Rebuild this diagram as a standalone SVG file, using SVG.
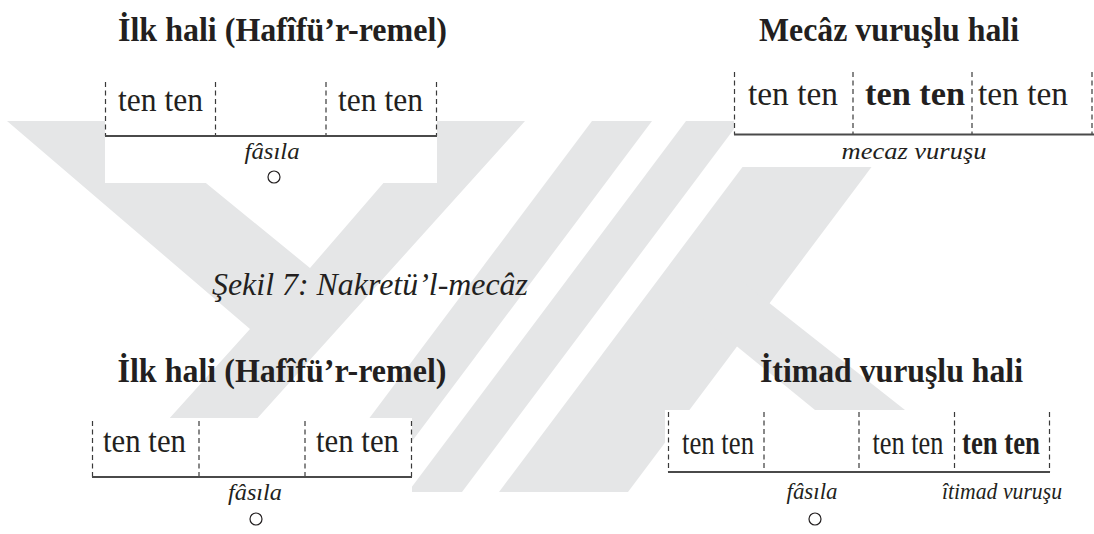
<svg xmlns="http://www.w3.org/2000/svg" width="1094" height="534" viewBox="0 0 1094 534">
<style>
.wm{fill:#e5e6e7}
.bg{fill:#ffffff}
.t{font-family:"Liberation Serif","Times New Roman",serif;fill:#231f20}
.title{font-size:34px;font-weight:bold;text-anchor:middle}
.cap{font-size:31px;font-style:italic;text-anchor:middle}
.cell{font-size:34px;text-anchor:middle}
.b{font-weight:bold}
.lab{font-size:24px;font-style:italic;text-anchor:middle}
.dash{stroke:#3a3a3a;stroke-width:1.2;stroke-dasharray:5 3.5;fill:none}
.base{stroke:#4a4a4a;stroke-width:2;fill:none}
.circ{fill:none;stroke:#231f20;stroke-width:1.2}
</style>
<rect x="0" y="0" width="1094" height="534" fill="#ffffff"/>
<g id="watermark">
<polygon class="wm" points="7,121 130,121 310,268 437,121 525,121 191,492 103,492 250,329"/>
<polygon class="wm" points="592,121 652,121 374,492 314,492"/>
<polygon class="wm" points="686,121 740,121 462,492 408,492"/>
<polygon class="wm" points="777,121 906,121 628,492 499,492"/>
<polygon class="wm" points="740,280 905,410 815,410 680,300"/>
</g>
<g id="backgrounds">
<rect class="bg" x="105" y="60" width="332" height="123"/>
<rect class="bg" x="734" y="60" width="360" height="107"/>
<rect class="bg" x="92" y="418" width="320" height="116"/>
<rect class="bg" x="665" y="410" width="429" height="124"/>
</g>
<g id="caption">
<text class="t cap" x="370" y="295" textLength="316" lengthAdjust="spacingAndGlyphs">Şekil 7: Nakretü’l-mecâz</text>
</g>
<g id="top-left">
<text class="t title" x="282.5" y="41" textLength="329" lengthAdjust="spacingAndGlyphs">İlk hali (Hafîfü’r-remel)</text>
<line class="dash" x1="105.5" y1="82" x2="105.5" y2="136"/>
<line class="dash" x1="215.5" y1="82" x2="215.5" y2="136"/>
<line class="dash" x1="326" y1="82" x2="326" y2="136"/>
<line class="dash" x1="436.5" y1="82" x2="436.5" y2="136"/>
<line class="base" x1="105" y1="136" x2="437" y2="136"/>
<text class="t cell" x="160.5" y="111" textLength="85" lengthAdjust="spacingAndGlyphs">ten ten</text>
<text class="t cell" x="380.5" y="111" textLength="85" lengthAdjust="spacingAndGlyphs">ten ten</text>
<text class="t lab" x="272" y="159" textLength="55" lengthAdjust="spacingAndGlyphs">fâsıla</text>
<circle class="circ" cx="274" cy="177" r="6"/>
</g>
<g id="top-right">
<text class="t title" x="889" y="41" textLength="260" lengthAdjust="spacingAndGlyphs">Mecâz vuruşlu hali</text>
<line class="dash" x1="734.5" y1="72" x2="734.5" y2="134.5"/>
<line class="dash" x1="853" y1="72" x2="853" y2="134.5"/>
<line class="dash" x1="972" y1="72" x2="972" y2="134.5"/>
<line class="dash" x1="1092" y1="72" x2="1092" y2="134.5"/>
<line class="base" x1="734" y1="134.5" x2="1094" y2="134.5"/>
<text class="t cell" x="793" y="105" textLength="90" lengthAdjust="spacingAndGlyphs">ten ten</text>
<text class="t cell b" x="915" y="105" textLength="100" lengthAdjust="spacingAndGlyphs">ten ten</text>
<text class="t cell" x="1023" y="105" textLength="90" lengthAdjust="spacingAndGlyphs">ten ten</text>
<text class="t lab" x="914" y="159" textLength="145" lengthAdjust="spacingAndGlyphs">mecaz vuruşu</text>
</g>
<g id="bottom-left">
<text class="t title" x="282" y="382" textLength="329" lengthAdjust="spacingAndGlyphs">İlk hali (Hafîfü’r-remel)</text>
<line class="dash" x1="92.5" y1="421" x2="92.5" y2="477"/>
<line class="dash" x1="199" y1="421" x2="199" y2="477"/>
<line class="dash" x1="305" y1="421" x2="305" y2="477"/>
<line class="dash" x1="411.5" y1="421" x2="411.5" y2="477"/>
<line class="base" x1="92" y1="477" x2="412" y2="477"/>
<text class="t cell" x="144.5" y="452" textLength="83" lengthAdjust="spacingAndGlyphs">ten ten</text>
<text class="t cell" x="357.5" y="452" textLength="83" lengthAdjust="spacingAndGlyphs">ten ten</text>
<text class="t lab" x="255" y="500" textLength="54" lengthAdjust="spacingAndGlyphs">fâsıla</text>
<circle class="circ" cx="256" cy="519" r="6"/>
</g>
<g id="bottom-right">
<text class="t title" x="891.5" y="382" textLength="263" lengthAdjust="spacingAndGlyphs">İtimad vuruşlu hali</text>
<line class="dash" x1="668.5" y1="412" x2="668.5" y2="472"/>
<line class="dash" x1="764" y1="412" x2="764" y2="472"/>
<line class="dash" x1="859" y1="412" x2="859" y2="472"/>
<line class="dash" x1="954.5" y1="412" x2="954.5" y2="472"/>
<line class="dash" x1="1049.5" y1="412" x2="1049.5" y2="472"/>
<line class="base" x1="668" y1="472" x2="1050" y2="472"/>
<text class="t cell" x="718" y="454" textLength="72" lengthAdjust="spacingAndGlyphs">ten ten</text>
<text class="t cell" x="908" y="454" textLength="71" lengthAdjust="spacingAndGlyphs">ten ten</text>
<text class="t cell b" x="1001" y="454" textLength="78" lengthAdjust="spacingAndGlyphs">ten ten</text>
<text class="t lab" x="812" y="499" textLength="51" lengthAdjust="spacingAndGlyphs">fâsıla</text>
<circle class="circ" cx="815" cy="519" r="6"/>
<text class="t lab" x="1002" y="499" textLength="120" lengthAdjust="spacingAndGlyphs">îtimad vuruşu</text>
</g>
</svg>
